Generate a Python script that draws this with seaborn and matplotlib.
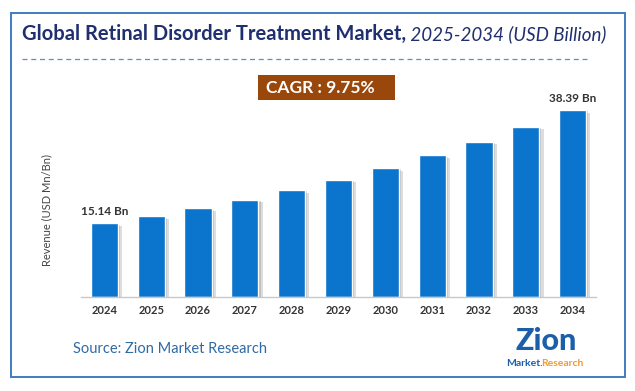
import matplotlib
matplotlib.use("Agg")
import matplotlib.pyplot as plt
import matplotlib.patheffects as pe
from matplotlib.patches import Rectangle
import seaborn as sns
import pandas as pd

years = ["2024", "2025", "2026", "2027", "2028", "2029", "2030", "2031", "2032", "2033", "2034"]
revenue = [15.14, 16.6, 18.2, 20.0, 22.0, 24.1, 26.5, 29.1, 31.9, 35.0, 38.39]
first_label = "15.14 Bn"
last_label = "38.39 Bn"
title_bold = "Global Retinal Disorder Treatment Market,"
title_ital = " 2025-2034 (USD Billion)"
cagr_text = "CAGR : 9.75%"
y_label = "Revenue (USD Mn/Bn)"
source_text = "Source: Zion Market Research"

sns.set_theme(style="white")
plt.rcParams["font.family"] = ["Lato", "DejaVu Sans"]

W, H = 635, 391
fig = plt.figure(figsize=(W / 100, H / 100), dpi=100)
fig.patch.set_facecolor("white")

def fx(px):
    return px / W

def fy(py):
    return 1 - py / H

# border
fig.patches.append(Rectangle((fx(11), fy(377)), fx(625) - fx(11), fy(13) - fy(377),
                             transform=fig.transFigure, fill=False,
                             edgecolor="#3F7CBF", linewidth=1.4))

ax = fig.add_axes([fx(81), fy(297), fx(596) - fx(81), fy(100) - fy(297)])
df = pd.DataFrame({"year": years, "revenue": revenue})
sns.barplot(data=df, x="year", y="revenue", color="#0B74CD", saturation=1,
            width=0.58, ax=ax)
for p in ax.patches:
    p.set_path_effects([pe.SimplePatchShadow(offset=(3, -2), alpha=0.18, shadow_rgbFace="#444444"),
                        pe.SimplePatchShadow(offset=(1.5, -1), alpha=0.2, shadow_rgbFace="#444444"),
                        pe.Normal()])
ax.set_xlim(-0.5, len(years) - 0.5)
ax.set_ylim(0, 40.45)
ax.set_yticks([])
ax.set_xlabel("")
ax.set_ylabel("")
for s in ["top", "right", "left"]:
    ax.spines[s].set_visible(False)
ax.spines["bottom"].set_color("#C8C8C8")
ax.spines["bottom"].set_linewidth(1.0)
ax.tick_params(axis="x", length=0, pad=6)
for lab in ax.get_xticklabels():
    lab.set_fontsize(8)
    lab.set_fontweight("bold")
    lab.set_color("#333333")

ax.text(0, revenue[0] + 1.2, first_label, ha="center", va="bottom",
        fontsize=8.5, fontweight="bold", color="#333333")
ax.text(len(years) - 1, revenue[-1] + 1.2, last_label, ha="center", va="bottom",
        fontsize=8.5, fontweight="bold", color="#333333")

# y label
fig.text(fx(47), fy(210), y_label, rotation=90, ha="center", va="center",
         fontsize=8, color="#444444")

# title
t1 = fig.text(fx(22), fy(34), title_bold, ha="left", va="center",
              fontsize=14.5, fontweight="bold", color="#1F2F6F")
fig.canvas.draw()
bb = t1.get_window_extent()
fig.text(bb.x1 / W, fy(34), title_ital, ha="left", va="center",
         fontsize=13.5, fontstyle="italic", color="#1F2F6F")

# dashed line
fig.lines.append(plt.Line2D([fx(22), fx(590)], [fy(59), fy(59)], transform=fig.transFigure,
                            color="#5B8FD0", linewidth=0.9, linestyle=(0, (4, 3))))

# CAGR box
fig.patches.append(Rectangle((fx(258), fy(100)), fx(395) - fx(258), fy(75) - fy(100),
                             transform=fig.transFigure, facecolor="#9A470C", edgecolor="none"))
fig.text(fx(320), fy(88), cagr_text, ha="center", va="center",
         fontsize=12.5, fontweight="bold", color="white")

# source
fig.text(fx(73), fy(349), source_text, ha="left", va="center",
         fontsize=10.5, color="#2F6AA5")

# logo
fig.text(fx(546), fy(341), "Zion", ha="center", va="center", fontsize=22,
         fontweight="black", color="#1B5FAA")
fig.text(fx(524), fy(364), "Market.", ha="center", va="center", fontsize=7.5,
         fontweight="bold", color="#1B5FAA")
fig.text(fx(562), fy(364), "Research", ha="center", va="center", fontsize=7.5,
         fontweight="bold", color="#F29A2E")

fig.savefig("out.png", dpi=100, facecolor="white")
